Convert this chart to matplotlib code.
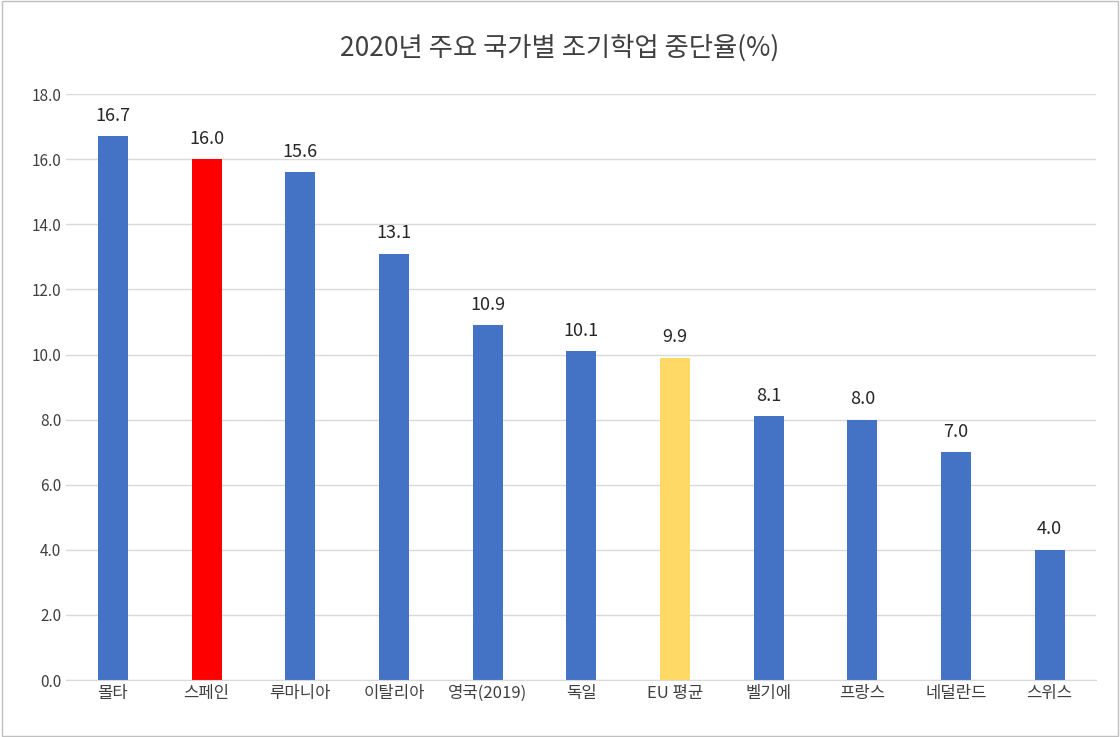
import matplotlib.pyplot as plt
from matplotlib.patches import Rectangle

plt.rcParams['font.family'] = ['Noto Sans CJK KR', 'DejaVu Sans']

countries = ['몰타', '스페인', '루마니아', '이탈리아', '영국(2019)', '독일', 'EU 평균', '벨기에', '프랑스', '네덜란드', '스위스']
rates = [16.7, 16.0, 15.6, 13.1, 10.9, 10.1, 9.9, 8.1, 8.0, 7.0, 4.0]
colors = ['#4472C4', '#FF0000', '#4472C4', '#4472C4', '#4472C4', '#4472C4',
          '#FFD966', '#4472C4', '#4472C4', '#4472C4', '#4472C4']

fig = plt.figure(figsize=(11.2, 7.37), dpi=100)
ax = fig.add_axes([0.059, 0.0773, 0.92, 0.795])

x = range(len(countries))
ax.bar(x, rates, width=0.32, color=colors, zorder=2)
for i, v in zip(x, rates):
    ax.text(i, v + 0.35, f'{v:.1f}', ha='center', va='bottom', fontsize=13, color='#262626')

ax.set_xlim(-0.5, len(countries) - 0.5)
ax.set_ylim(0, 18)
ax.set_yticks([i * 2 for i in range(10)])
ax.set_yticklabels([f'{i * 2:.1f}' for i in range(10)], fontsize=11, color='#404040')
ax.set_xticks(list(x))
ax.set_xticklabels(countries, fontsize=12, color='#404040')
ax.tick_params(length=0)
ax.grid(axis='y', color='#D9D9D9', linewidth=1, zorder=0)
for s in ['top', 'right', 'left']:
    ax.spines[s].set_visible(False)
ax.spines['bottom'].set_color('#D9D9D9')

fig.text(0.5, 0.935, '2020년 주요 국가별 조기학업 중단율(%)', ha='center', va='center',
         fontsize=19, color='#404040')
fig.patches.append(Rectangle((0.002, 0.002), 0.996, 0.996, transform=fig.transFigure,
                             fill=False, edgecolor='#BFBFBF', linewidth=1))

fig.savefig('out.png', dpi=100)
